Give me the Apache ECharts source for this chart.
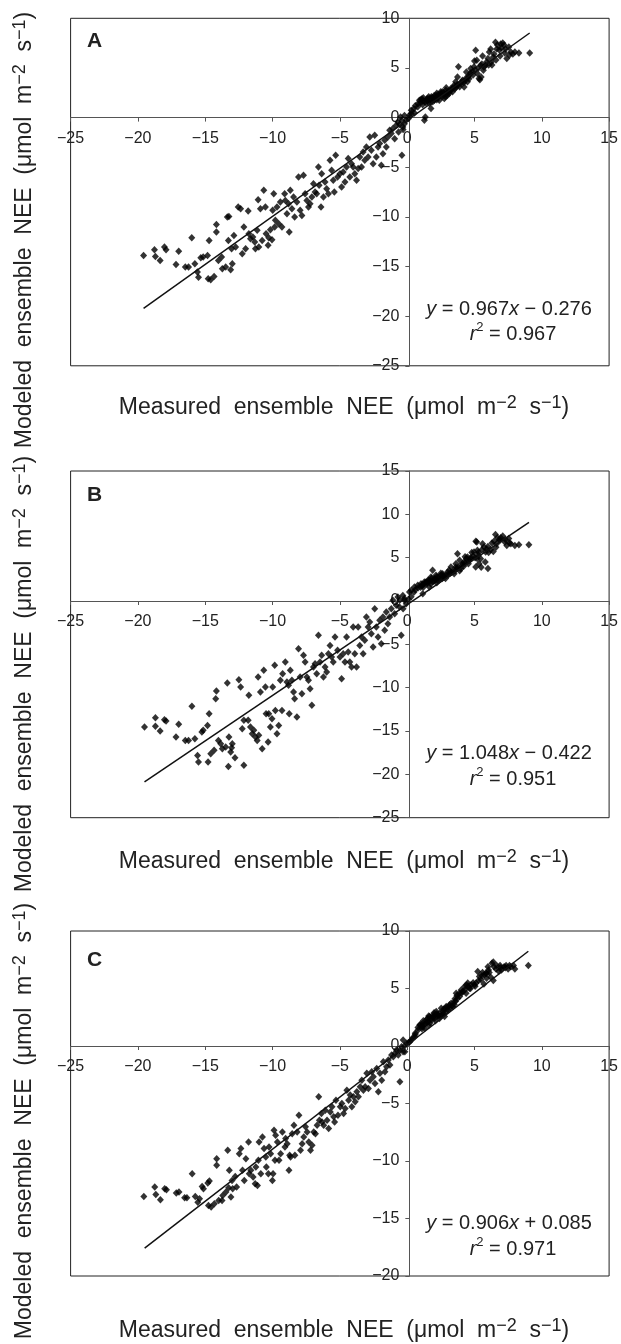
<!DOCTYPE html>
<html><head><meta charset="utf-8">
<script src="https://cdn.jsdelivr.net/npm/echarts@6/dist/echarts.min.js"></script>
<style>html,body{margin:0;padding:0;background:#fff}#c{width:621px;height:1344px}</style>
</head><body><div id="c"></div>
<script>
// ---------- DATA ----------
var panelLetters = ['A', 'B', 'C'];
var xRange = [-25, 15];
var yRangeA = [-25, 10], yRangeB = [-25, 15], yRangeC = [-20, 10];
var eqA = ['0.967', '\u2212 0.276', '0.967'];
var eqB = ['1.048', '\u2212 0.422', '0.951'];
var eqC = ['0.906', '+ 0.085', '0.971'];
var lineA = [[-19.58, -19.22], [9.1, 8.52]];
var lineB = [[-19.51, -20.87], [9.05, 9.06]];
var lineC = [[-19.5, -17.58], [9.0, 8.24]];

var ptsA = [
[-19.58,-13.88],[-18.77,-13.31],[-18.7,-13.98],[-18.35,-14.39],[-18.03,-13.04],[-17.91,-13.31],[-17.17,-14.79],[-16.97,-13.45],[-16.48,-15.06],[-16.24,-15.06],[-16,-12.1],[-15.77,-14.72],[-15.58,-15.56],[-15.5,-16.07],[-15.33,-14.12],[-15.15,-14.05],[-14.83,-13.88],[-14.71,-12.37],[-14.78,-16.24],[-14.59,-16.34],[-14.34,-16],[-14.17,-10.76],[-14.17,-11.53],[-14.02,-14.39],[-13.78,-14.05],[-13.73,-15.23],[-13.48,-15.06],[-13.36,-10.02],[-13.24,-9.95],[-13.28,-12.37],[-13.11,-15.33],[-12.99,-14.72],[-13.04,-13.21],[-12.87,-11.87],[-12.74,-13.04],[-12.55,-9.01],[-12.37,-9.18],[-12.25,-13.71],[-12.13,-11.03],[-12,-13.21],[-11.81,-9.41],[-11.76,-11.7],[-11.64,-12.2],[-11.46,-12.03],[-11.32,-12.54],[-11.27,-13.21],[-11.14,-11.36],[-11.07,-8.27],[-11.02,-13.04],[-10.9,-9.18],[-10.77,-12.37],[-10.65,-7.33],[-10.53,-9.01],[-10.48,-11.7],[-10.33,-12.87],[-10.28,-12.1],[-10.16,-11.29],[-10.04,-12.3],[-9.99,-9.34],[-9.91,-7.66],[-9.84,-11.03],[-9.79,-10.35],[-9.67,-9.01],[-9.54,-10.69],[-9.42,-8.5],[-9.3,-11.03],[-9.1,-7.66],[-9.05,-8.34],[-8.93,-9.68],[-8.81,-8.67],[-8.76,-11.53],[-8.68,-7.33],[-8.56,-9.18],[-8.44,-8],[-8.36,-10.02],[-8.19,-8.5],[-8.07,-5.98],[-7.95,-9.34],[-7.82,-9.85],[-7.7,-5.82],[-7.58,-7.66],[-7.45,-8.34],[-7.33,-9.01],[-7.21,-8.67],[-7.08,-8],[-6.96,-6.66],[-6.84,-7.5],[-6.72,-7.66],[-6.59,-4.97],[-6.54,-6.82],[-6.4,-9.01],[-6.35,-5.65],[-6.22,-8],[-6.1,-6.49],[-5.98,-7.16],[-5.85,-7.66],[-5.73,-4.3],[-5.61,-5.31],[-5.49,-6.32],[-5.41,-7.5],[-5.31,-3.8],[-5.17,-5.98],[-4.99,-5.65],[-4.87,-6.99],[-4.75,-5.48],[-4.62,-6.49],[-4.5,-4.97],[-4.38,-4.13],[-4.26,-5.98],[-4.13,-4.64],[-4.01,-4.97],[-3.89,-5.65],[-3.76,-6.32],[-3.64,-5.14],[-3.52,-3.97],[-3.39,-4.97],[-3.27,-3.46],[-3.15,-4.3],[-3.03,-2.96],[-2.9,-3.97],[-2.78,-1.95],[-2.66,-3.29],[-2.53,-4.64],[-2.41,-1.78],[-2.29,-3.97],[-2.16,-2.96],[-2.04,-2.62],[-1.92,-4.81],[-1.8,-3.63],[-1.67,-2.29],[-1.55,-2.96],[-1.43,-1.95],[-1.3,-1.28],[-1.18,-1.61],[-1.06,-1.11],[-0.93,-2.12],[-0.81,-0.77],[-0.69,-0.44],[-0.64,-1.45],[-0.49,0.07],[-0.39,-3.8],[-0.32,-0.94],[-0.2,-0.61],[-0.07,-0.27],
[0.17,0.24],[0.3,0.74],[0.54,0.47],[0.79,1.08],[0.91,1.75],[1.03,1.82],[1.16,1.68],[1.28,-0.27],[1.35,0.07],[1.53,1.92],[1.65,1.41],[1.77,0.91],[1.89,2.02],[2.02,1.75],[2.14,2.25],[2.26,2.08],[2.39,1.75],[2.51,2.42],[2.63,2.59],[2.76,1.92],[2.88,2.76],[3,2.25],[3.12,2.42],[3.25,2.92],[3.37,2.59],[3.49,3.26],[3.62,3.03],[3.74,4.1],[3.81,5.11],[3.99,3.43],[4.11,3.76],[4.23,3.09],[4.35,3.93],[4.48,3.6],[4.6,4.27],[4.72,4.94],[4.85,4.61],[4.97,5.11],[5.09,6.79],[5.17,5.78],[5.22,4.44],[5.34,3.93],[5.46,5.28],[5.66,4.77],[5.83,5.28],
[5.7,5.1],[6,5.96],[6.1,6.6],[6.25,5.6],[6.4,6.1],[6.56,7.6],[6.7,7.3],[6.85,6.8],[7,7],[7.1,7.5],[7.25,6.5],[7.4,5.96],[7.55,7.1],[7.7,6.6],[7.85,6.4],[8,6.6],[8.3,6.5],[9.1,6.5],[5.4,3.8],[5.5,4.1],[6.3,5.3],[6.6,5.8],[6.9,6.2],[7.2,7.3],[6.2,6.9],
[1.1,1.9],[1.3,1.6],[1.5,1.7],[1.7,1.9],[1.9,1.6],[2.1,2],[2.3,2.3],[2.6,2.1],[2.9,2.4],[3.2,2.7],[1.2,2],[1.4,1.5],[1.8,2.1],[2.2,1.8],[2.5,2.6],[3.4,3],[3.8,3.3],[4.2,3.5],[4.6,3.9],[0.5,0.9],[0.3,0.4],[-0.2,0.2],[-0.4,-0.3],
[0.6,1.2],[0.8,1.4],[1,1.5],[1.15,1.3],[1.45,1.85],[1.6,2.1],[1.75,1.6],[2,2.2],[2.2,2.45],[2.45,2.2],[2.7,2.5],[2.85,2.1],[3.05,2.6],[3.3,2.8],[3.55,2.9],[3.7,3.3],[3.9,3.1],[4.05,3.6],[4.3,3.7],[4.55,4.1],[4.7,4.5],[4.9,4.3],[5.05,4.8],[5.3,5],[5.55,5.4],[5.9,5.6],[6.05,5.3],[6.45,6.4],[6.65,6.9],[6.95,7.4],[7.3,6.9],[7.6,6.3],[5.6,6.2],[5,5.7],[4.4,4.6],[3.6,3.6],[2.9,3],[0.1,-0.1],[-0.3,-1.2],[-0.55,-0.7]
];

var ptsB = [
[-19.51,-14.54],[-18.7,-13.46],[-18.7,-14.46],[-18.35,-15],[-18.03,-13.69],[-17.91,-13.85],[-17.17,-15.69],[-16.97,-14.23],[-16.48,-16.08],[-16.24,-16.08],[-15.99,-12.15],[-15.77,-15.88],[-15.57,-17.81],[-15.5,-18.58],[-15.25,-15.12],[-15.15,-14.92],[-14.83,-14.35],[-14.71,-13],[-14.79,-18.58],[-14.59,-17.62],[-14.34,-17.23],[-14.17,-10.38],[-14.22,-11.27],[-14.02,-16.08],[-13.85,-16.46],[-13.73,-17.04],[-13.48,-16.85],[-13.28,-19.08],[-13.24,-15.69],[-13.36,-9.46],[-13.04,-16.92],[-13.11,-17.42],[-12.99,-16.46],[-12.79,-18.08],[-12.5,-9.08],[-12.37,-9.92],[-12.13,-18.96],[-12.25,-14.73],[-12.13,-13.77],[-11.81,-13.77],[-11.76,-10.88],[-11.64,-14.54],[-11.51,-15.31],[-11.39,-14.92],[-11.27,-15.69],[-11.14,-16.08],[-11.07,-8.77],[-11.02,-15.5],[-10.9,-10.5],[-10.77,-17.04],[-10.65,-8],[-10.53,-9.92],[-10.48,-13],[-10.33,-16.27],[-10.28,-13],[-10.16,-14.54],[-10.04,-13.58],[-9.99,-9.92],[-9.84,-7.42],[-9.79,-12.62],[-9.67,-15.31],[-9.54,-14.35],[-9.42,-9.15],[-9.3,-12.62],[-9.25,-8.38],[-9.05,-7.04],[-8.93,-9.35],[-8.81,-9.73],[-8.76,-13],[-8.68,-8],[-8.56,-9.15],[-8.44,-10.5],[-8.36,-11.27],[-8.19,-13.38],[-8.07,-5.5],[-7.95,-8.77],[-7.82,-10.69],[-7.7,-6.27],[-7.58,-7.04],[-7.45,-8.77],[-7.33,-9.15],[-7.21,-10.12],[-7.08,-12.04],[-6.96,-7.62],[-6.84,-7.23],[-6.72,-8.38],[-6.59,-3.96],[-6.47,-7.04],[-6.35,-6.27],[-6.22,-8.77],[-6.1,-7.62],[-5.98,-8.19],[-5.85,-6.08],[-5.73,-5.12],[-5.61,-6.46],[-5.49,-7.04],[-5.36,-4.15],[-5.17,-5.69],[-4.99,-6.46],[-4.87,-8.96],[-4.75,-6.08],[-4.62,-7.04],[-4.5,-4.15],[-4.38,-5.88],[-4.26,-7.04],[-4.13,-7.62],[-4.01,-3],[-3.89,-6.08],[-3.76,-7.62],[-3.64,-3],[-3.52,-5.12],[-3.39,-4.15],[-3.27,-6.08],[-3.15,-4.54],[-3.03,-1.85],[-2.9,-3],[-2.78,-2.42],[-2.66,-3.77],[-2.53,-5.31],[-2.41,-0.88],[-2.29,-3],[-2.16,-4.15],[-2.04,-2.23],[-1.92,-4.92],[-1.8,-1.85],[-1.67,-3.38],[-1.55,-1.27],[-1.43,-2.62],[-1.3,-1.85],[-1.18,-0.88],[-1.06,0.08],[-0.93,-1.46],[-0.81,-0.5],[-0.69,0.46],[-0.57,-0.69],[-0.44,-3.96],[-0.32,0.65],[-0.2,0.08],[-0.07,-0.31],
[0.17,1.04],[0.3,1.23],[0.54,1.62],[0.79,1.81],[1.03,2],[1.16,0.85],[1.28,2.19],[1.53,2.38],[1.65,1.62],[1.77,2.77],[1.89,3.54],[2.02,2.58],[2.14,2.96],[2.26,2.38],[2.51,2.96],[2.63,3.15],[2.76,2.77],[3,3.35],[3.12,3.54],[3.25,3.92],[3.49,3.15],[3.62,4.31],[3.74,5.46],[3.99,3.73],[4.11,4.31],[4.23,4.5],[4.48,5.08],[4.6,4.69],[4.72,5],[4.97,5.65],[5.09,3.92],[5.17,6.81],[5.22,5.85],[5.34,4.31],[5.46,4.88],[5.71,6.23],[5.83,5.65],
[5.1,6.9],[5.3,5.3],[5.8,4.5],[6,6.3],[6.3,6.7],[6.4,5.7],[6.56,7.66],[6.7,7.3],[6.85,7.1],[7.1,7.5],[7.25,6.8],[7.4,6.4],[7.7,6.6],[8,6.4],[8.3,6.5],[9.04,6.5],[5.5,3.9],[6,3.75],[6.2,5.9],[6.6,6.2],[6.9,7],[7.55,7.2],[3.9,4.7],[4.3,5.1],[4.8,5.6],[5.2,4.9],
[1.1,1.8],[1.3,2],[1.5,2.1],[1.7,2.3],[1.9,2.2],[2.1,2.5],[2.3,2.7],[2.6,2.6],[2.9,3],[3.2,3.2],[1.2,1.6],[1.4,2.2],[1.8,2.6],[2.2,2.1],[2.5,3.2],[3.4,3.4],[3.8,3.9],[4.2,4],[0.5,1],[0.3,0.5],[-0.2,0.3],
[0.6,1.3],[0.8,1.5],[1,1.6],[1.15,1.9],[1.45,2],[1.6,2.4],[1.75,2],[2,2.3],[2.2,2.8],[2.45,2.5],[2.7,2.9],[2.85,2.6],[3.05,3],[3.3,3.3],[3.55,3.5],[3.7,3.8],[3.9,3.5],[4.05,4.1],[4.3,4.4],[4.55,4.3],[4.7,4.8],[4.9,5.2],[5.05,5],[5.3,5.6],[5.55,5.9],[5.9,6],[6.05,5.6],[6.45,6.9],[6.65,6.6],[6.95,7.3],[7.3,7.1],[7.6,6.7],[5.6,6.6],[4.4,4.9],[3.6,3.9],[0.1,0.2],[-0.3,-0.9],[-0.55,0.1]
];

var ptsC = [
[-19.56,-13.08],[-18.75,-12.27],[-18.67,-12.91],[-18.33,-13.37],[-18.01,-12.41],[-17.88,-12.5],[-17.15,-12.79],[-16.95,-12.7],[-16.53,-13.2],[-16.36,-13.2],[-15.97,-11.1],[-15.74,-13.08],[-15.55,-13.58],[-15.42,-13.28],[-15.23,-12.21],[-15.13,-12.41],[-14.81,-11.92],[-14.69,-11.74],[-14.76,-13.87],[-14.56,-14.01],[-14.32,-13.72],[-14.15,-9.8],[-14.15,-10.38],[-14,-13.43],[-13.75,-13.43],[-13.7,-12.99],[-13.46,-12.7],[-13.33,-9.07],[-13.21,-10.81],[-13.26,-12.33],[-13.09,-13.14],[-12.96,-12.41],[-13.01,-11.69],[-12.77,-11.34],[-12.67,-12.27],[-12.47,-9.36],[-12.35,-8.92],[-12.23,-10.81],[-12.1,-11.69],[-11.98,-9.8],[-11.78,-8.34],[-11.73,-11.1],[-11.61,-10.81],[-11.44,-11.4],[-11.29,-11.98],[-11.24,-10.52],[-11.12,-12.12],[-11.05,-9.94],[-11,-8.34],[-10.87,-11.1],[-10.75,-7.91],[-10.63,-8.92],[-10.5,-9.65],[-10.46,-10.52],[-10.31,-11.1],[-10.26,-8.78],[-10.14,-9.36],[-10.01,-11.69],[-9.96,-11.1],[-9.89,-7.33],[-9.82,-9.94],[-9.77,-7.76],[-9.64,-8.34],[-9.52,-9.94],[-9.4,-9.36],[-9.27,-7.47],[-9.08,-8.78],[-9.03,-8.05],[-8.91,-8.49],[-8.78,-10.81],[-8.73,-9.51],[-8.66,-9.65],[-8.54,-7.62],[-8.41,-6.89],[-8.34,-9.51],[-8.17,-7.47],[-8.04,-6.02],[-7.92,-9.07],[-7.8,-8.49],[-7.68,-7.91],[-7.55,-7.03],[-7.43,-7.47],[-7.31,-8.34],[-7.18,-9.07],[-7.06,-8.63],[-6.94,-7.47],[-6.81,-7.62],[-6.69,-6.89],[-6.57,-4.42],[-6.52,-6.45],[-6.37,-5.87],[-6.32,-6.6],[-6.2,-6.89],[-6.08,-5.58],[-5.95,-6.45],[-5.83,-7.18],[-5.71,-5.73],[-5.58,-5.29],[-5.46,-6.16],[-5.39,-6.6],[-5.29,-4.71],[-5.14,-6.02],[-4.97,-5.29],[-4.85,-5],[-4.72,-5.87],[-4.6,-5.44],[-4.48,-3.84],[-4.35,-4.71],[-4.23,-4.27],[-4.11,-5.29],[-3.99,-4.42],[-3.86,-4.85],[-3.74,-3.98],[-3.62,-4.42],[-3.49,-3.55],[-3.37,-2.97],[-3.25,-3.84],[-3.12,-3.55],[-3,-2.38],[-2.88,-3.69],[-2.76,-2.97],[-2.63,-2.24],[-2.51,-2.67],[-2.39,-3.26],[-2.26,-1.95],[-2.14,-3.98],[-2.02,-2.38],[-1.89,-2.97],[-1.77,-1.37],[-1.65,-2.24],[-1.53,-1.8],[-1.4,-1.22],[-1.28,-1.66],[-1.16,-0.78],[-1.03,-0.93],[-0.91,-0.64],[-0.79,-0.35],[-0.66,-0.78],[-0.54,-3.11],[-0.42,-0.06],[-0.3,0.52],[-0.17,-0.49],[-0.05,0.23],
[0.2,0.38],[0.32,0.52],[0.57,0.81],[0.81,1.4],[0.93,1.83],[1.06,1.69],[1.18,1.98],[1.3,1.54],[1.43,2.27],[1.55,2.12],[1.67,2.56],[1.8,2.27],[1.92,2.7],[2.04,2.41],[2.16,2.99],[2.29,2.7],[2.41,2.85],[2.53,3.28],[2.66,2.99],[2.78,2.56],[2.9,3.43],[3.03,3.14],[3.15,3.58],[3.27,3.72],[3.39,3.43],[3.52,3.87],[3.64,4.59],[3.76,4.16],[3.89,4.59],[4.01,4.88],[4.13,4.74],[4.26,5.17],[4.38,4.59],[4.5,5.47],[4.62,5.03],[4.75,5.32],[4.99,5.32],[5.12,5.47],[5.24,6.48],[5.36,6.05],[5.49,5.76],[5.73,6.19],[5.85,6.34],
[6,6.9],[6.2,6],[6.3,7.2],[6.4,5.7],[6.6,6.7],[6.9,7],[7.2,6.9],[7.5,6.7],[7.7,6.9],[8,6.7],[9,7],[5.7,5.4],[6.4,7.3],[6.8,6.5],[7,6.6],[7.35,7],[7.9,7],[6.1,6.4],[5.9,5.9],
[1.1,1.5],[1.3,1.9],[1.5,2.4],[1.7,2],[1.9,2.5],[2.1,2.2],[2.3,2.6],[2.6,2.7],[2.9,3],[3.2,3.3],[1.2,2.2],[1.6,1.8],[2,2.9],[2.4,2.4],[2.7,3.2],[3.5,3.6],[0.6,1.1],[0.4,0.7],[-0.2,0],
[0.6,1],[0.8,1.6],[1,1.9],[1.15,1.7],[1.45,2],[1.6,2.6],[1.75,2.4],[2,2.6],[2.2,2.8],[2.45,2.6],[2.7,2.8],[2.85,3.3],[3.05,3.4],[3.3,3.5],[3.55,4.1],[3.7,4.4],[3.9,4.3],[4.05,4.6],[4.3,4.9],[4.55,5.2],[4.7,5],[4.9,5.5],[5.05,5.2],[5.3,5.7],[5.55,6.1],[5.9,6.3],[6.05,6.6],[6.45,6.9],[6.65,7],[6.95,6.8],[7.3,6.8],[7.6,7],[5.6,6.4],[4.4,5.3],[3.6,3.9],[0.1,0.3],[-0.3,-0.5],[-0.55,-0.4]
];

// ---------- LAYOUT ----------
var FONT = '"Liberation Sans", Arial, Helvetica, sans-serif';
var grids = [
  {left: 70.6, right: 8.4, top: 18.3, height: 347.5},
  {left: 70.6, right: 8.4, top: 471, height: 346.7},
  {left: 70.6, right: 8.4, top: 931, height: 345}
];
var gridW = 621 - 70.6 - 8.4;
var yRanges = [yRangeA, yRangeB, yRangeC];
var pts = [ptsA, ptsB, ptsC];
var lines = [lineA, lineB, lineC];
var eqs = [eqA, eqB, eqC];
function minus(v){ return String(v).replace('-', '\u2212'); }

var option = {
  animation: false,
  backgroundColor: '#fff',
  grid: grids.map(function(g){ return Object.assign({show: true, borderColor: '#222', borderWidth: 1, backgroundColor: 'transparent'}, g); }),
  xAxis: grids.map(function(g, i){
    var yr = yRanges[i];
    return {
    type: 'value', gridIndex: i, min: xRange[0], max: xRange[1], interval: 5, position: 'bottom',
    offset: -g.height * (0 - yr[0]) / (yr[1] - yr[0]),
    axisLine: {onZero: false, lineStyle: {color: '#555', width: 1}},
    axisTick: {show: true, length: 4, lineStyle: {color: '#555'}},
    axisLabel: {fontSize: 16, color: '#222', fontFamily: FONT, margin: 13, formatter: minus},
    splitLine: {show: false}
  }; }),
  yAxis: grids.map(function(g, i){ return {
    type: 'value', gridIndex: i, min: yRanges[i][0], max: yRanges[i][1], interval: 5, position: 'left',
    offset: -gridW * (0 - xRange[0]) / (xRange[1] - xRange[0]),
    axisLine: {onZero: false, lineStyle: {color: '#555', width: 1}},
    axisTick: {show: true, length: 4, lineStyle: {color: '#555'}},
    axisLabel: {fontSize: 16, color: '#222', fontFamily: FONT, margin: 10, formatter: minus},
    splitLine: {show: false}
  }; }),
  series: [],
  graphic: []
};
for (var i = 0; i < 3; i++) {
  option.series.push({type: 'scatter', xAxisIndex: i, yAxisIndex: i, data: pts[i], symbol: 'diamond', symbolSize: [7, 7.5],
    itemStyle: {color: '#000'}, silent: true});
  option.series.push({type: 'line', xAxisIndex: i, yAxisIndex: i, data: lines[i], showSymbol: false, symbol: 'none',
    lineStyle: {color: '#111', width: 1.5}, silent: true});
}

var richBase = {
  sup: {fontSize: 18, lineHeight: 14, verticalAlign: 'top', fontFamily: FONT, fill: '#222'},
  i: {fontStyle: 'italic', fontSize: 20, fontFamily: FONT, fill: '#222'},
  s2: {fontSize: 13, lineHeight: 13, verticalAlign: 'top', fontFamily: FONT, fill: '#222'}
};
function txt(x, y, text, size, opts) {
  return Object.assign({type: 'text', x: x, y: y, silent: true,
    style: {text: text, fontSize: size, fontFamily: FONT, fill: '#222', align: 'center', verticalAlign: 'middle',
      textAlign: 'center', textVerticalAlign: 'middle', lineHeight: 28, rich: richBase}}, opts || {});
}
var unitTxt = '  NEE  (\u03bcmol  m{sup|\u22122}  s{sup|\u22121})';
var titleY = [408, 862, 1331];
var letterY = [41, 495, 960];
var eqY = [309, 753, 1223];
var r2Y = [334, 779, 1249];
var ylabY = [230, 674, 1121];
for (var k = 0; k < 3; k++) {
  option.graphic.push(txt(344, titleY[k], 'Measured  ensemble' + unitTxt, 23));
  option.graphic.push(txt(25, ylabY[k], 'Modeled  ensemble' + unitTxt, 23, {rotation: Math.PI / 2}));
  var lt = txt(87, letterY[k], panelLetters[k], 21);
  lt.style.fontWeight = 'bold'; lt.style.align = 'left'; lt.style.textAlign = 'left';
  option.graphic.push(lt);
  var e1 = txt(509, eqY[k], '{i|y} = ' + eqs[k][0] + '{i|x} ' + eqs[k][1], 20);
  e1.style.lineHeight = 26;
  option.graphic.push(e1);
  var e2 = txt(513, r2Y[k], '{i|r}{s2|2} = ' + eqs[k][2], 20);
  e2.style.lineHeight = 26;
  option.graphic.push(e2);
}

var chart = echarts.init(document.getElementById('c'), null, {renderer: 'canvas'});
chart.setOption(option);
</script></body></html>
